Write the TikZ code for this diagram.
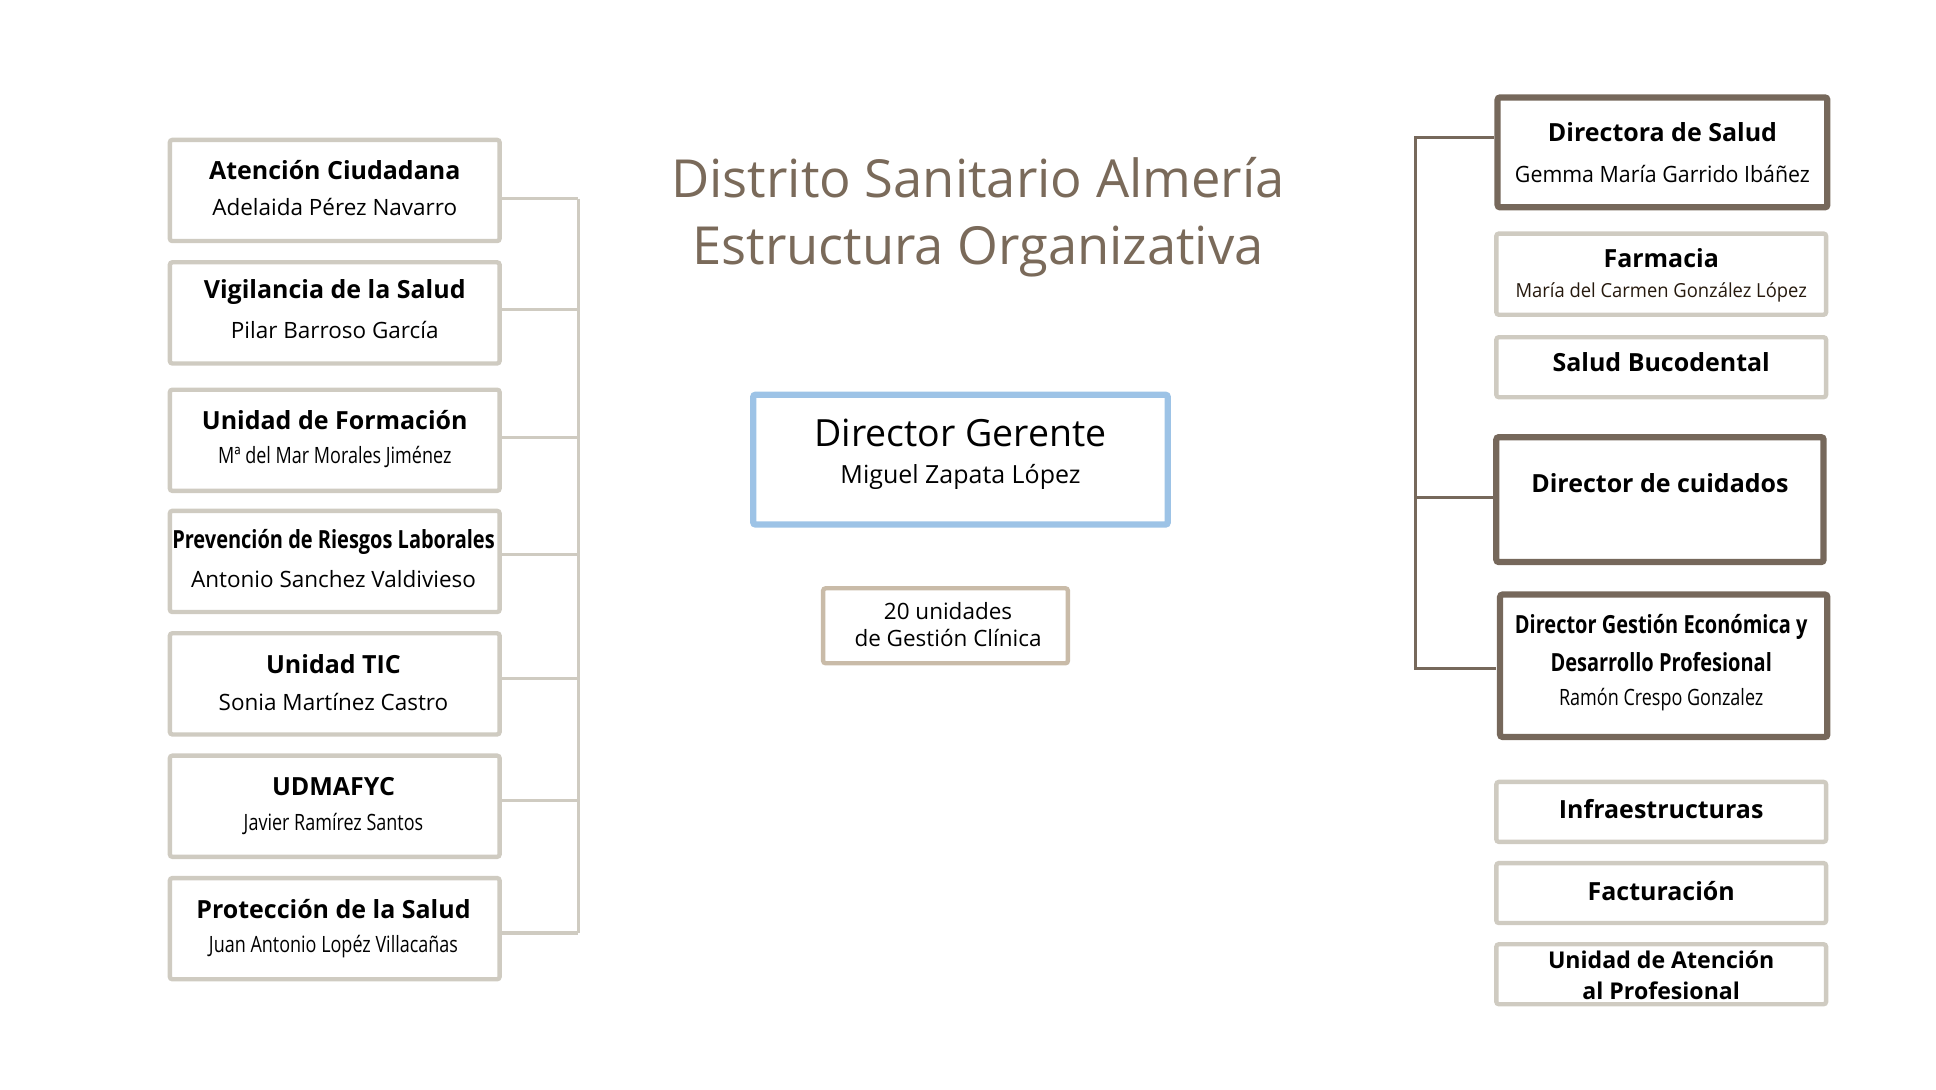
\documentclass[tikz,border=0pt]{standalone}
\usepackage{fontspec}
\setmainfont{Open Sans}
\usepackage{graphicx}
\definecolor{lg}{HTML}{CFCBC1}
\definecolor{dk}{HTML}{76685B}
\definecolor{bl}{HTML}{9DC3E6}
\definecolor{tan}{HTML}{C9BBA8}
\definecolor{tt}{HTML}{7A6A5A}
\newcommand{\tl}[1]{{\fontsize{20}{24}\selectfont\bfseries #1}}
\newcommand{\nm}[1]{{\fontsize{18}{22}\selectfont #1}}
\newcommand{\cnd}[1]{\scalebox{0.8}[1]{#1}}
\begin{document}
\begin{tikzpicture}[x=1pt,y=-1pt,
 lbox/.style={draw=lg,line width=3.5pt,rounded corners=2pt,fill=white},
 dbox/.style={draw=dk,line width=5pt,rounded corners=2pt,fill=white},
 lcon/.style={draw=lg,line width=2.5pt},
 dcon/.style={draw=dk,line width=2.5pt}]
\useasboundingbox (0,0) rectangle (1550,872);
\foreach \ya/\yb in {112/193,210/291,312/393,409/490,507/588,605/686,703/784}{
  \path[lbox] (136,\ya) rectangle (400,\yb);
}
\node at (268,136) {\tl{Atención Ciudadana}};
\node at (268,166) {\nm{Adelaida Pérez Navarro}};
\node at (268,234) {\tl{Vigilancia de la Salud}};
\node at (268,264) {\nm{Pilar Barroso García}};
\node at (268,336) {\tl{Unidad de Formación}};
\node at (268,366) {\nm{\cnd{Mª del Mar Morales Jiménez}}};
\node at (267,434) {\tl{\cnd{Prevención de Riesgos Laborales}}};
\node at (267,464) {\nm{Antonio Sanchez Valdivieso}};
\node at (267,532) {\tl{Unidad TIC}};
\node at (267,562) {\nm{Sonia Martínez Castro}};
\node at (267,630) {\tl{UDMAFYC}};
\node at (267,660) {\nm{\cnd{Javier Ramírez Santos}}};
\node at (267,728) {\tl{Protección de la Salud}};
\node at (267,758) {\nm{\cnd{Juan Antonio Lopéz Villacañas}}};
\foreach \y in {159,248,350,444,543,641,747}{
  \draw[lcon] (401,\y) -- (463,\y);
}
\draw[lcon] (463,159) -- (463,747);
\node[text=tt,align=center,font=\fontsize{42}{54}\selectfont] (title) at (783,174) {Distrito Sanitario Almería\\Estructura Organizativa};
\path[draw=bl,line width=5pt,rounded corners=2pt] (603,316) rectangle (935,420);
\node (dg) at (769,347) {\fontsize{30}{36}\selectfont Director Gerente};
\node (mz) at (769,382) {\fontsize{20}{25}\selectfont Miguel Zapata López};
\path[draw=tan,line width=3.5pt,rounded corners=2pt] (659,471) rectangle (855,531);
\node[align=center,font=\fontsize{18}{21}\selectfont] (ug) at (759,500) {20 unidades\\de Gestión Clínica};
\path[dbox] (1199,78) rectangle (1463,166);
\node at (1331,106) {\tl{Directora de Salud}};
\node at (1331,139) {\nm{\scalebox{0.95}[1]{Gemma María Garrido Ibáñez}}};
\path[lbox] (1198,187) rectangle (1462,252);
\node at (1330,207) {\tl{Farmacia}};
\node[text=black!80!brown] at (1330,234) {\fontsize{15.5}{19}\selectfont\scalebox{0.95}[1]{María del Carmen González López}};
\path[lbox] (1198,270) rectangle (1462,318);
\node at (1330,290) {\tl{Salud Bucodental}};
\path[dbox] (1198,350) rectangle (1460,450);
\node at (1329,387) {\tl{Director de cuidados}};
\path[dbox] (1201,476) rectangle (1463,590);
\node at (1330,502) {\tl{\cnd{Director Gestión Económica y}}};
\node at (1330,530) {\tl{\cnd{Desarrollo Profesional}}};
\node at (1330,560) {\nm{\cnd{Ramón Crespo Gonzalez}}};
\path[lbox] (1198,626) rectangle (1462,674);
\node at (1330,648) {\tl{Infraestructuras}};
\path[lbox] (1198,691) rectangle (1462,739);
\node at (1330,713) {\tl{Facturación}};
\path[lbox] (1198,756) rectangle (1462,804);
\node[align=center,font=\fontsize{18.5}{25}\selectfont\bfseries] at (1330,781) {Unidad de Atención\\al Profesional};
\draw[dcon] (1196,110) -- (1133,110) -- (1133,535) -- (1198,535);
\draw[dcon] (1133,398) -- (1195,398);
\end{tikzpicture}
\end{document}
